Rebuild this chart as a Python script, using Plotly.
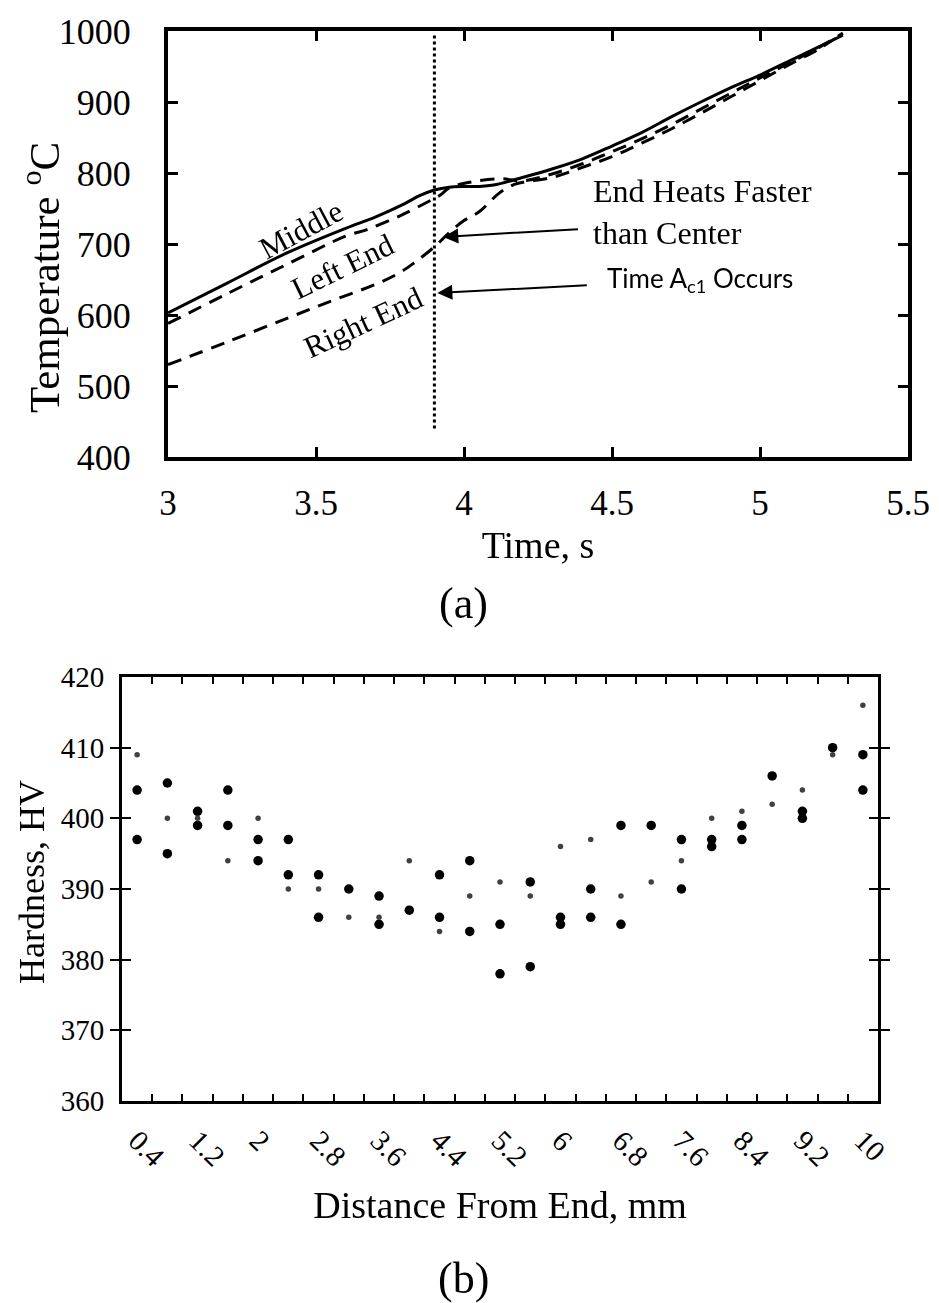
import plotly.graph_objects as go

# ---- (a) temperature vs time ----
t_middle = [3.0, 3.2, 3.4, 3.6, 3.7, 3.8, 3.85, 3.9, 3.95, 4.0, 4.05, 4.1, 4.2, 4.3,
            4.4, 4.5, 4.6, 4.7, 4.8, 4.9, 5.0, 5.1, 5.2, 5.28]
temp_middle = [603, 645, 687, 722, 738, 757, 768, 776, 780, 781, 781, 783, 794, 806,
               820, 838, 857, 879, 900, 920, 938, 958, 978, 994]

t_left = [3.0, 3.2, 3.4, 3.6, 3.67, 3.78, 3.89, 3.92, 3.95, 4.02, 4.12, 4.2, 4.3,
          4.4, 4.5, 4.6, 4.7, 4.8, 4.9, 5.0, 5.1, 5.2, 5.28]
temp_left = [588, 630, 671, 711, 720, 739, 762, 769, 779, 787, 792, 789, 799,
             813, 830, 848, 868, 890, 912, 934, 955, 977, 997]

t_right = [3.0, 3.2, 3.4, 3.56, 3.7, 3.78, 3.83, 3.9, 3.95, 4.0, 4.05, 4.12, 4.17,
           4.2, 4.3, 4.4, 4.5, 4.6, 4.7, 4.8, 4.9, 5.0, 5.1, 5.2, 5.28]
temp_right = [530, 562, 595, 621, 643, 659, 673, 696, 716, 733, 745, 772, 784,
              787, 794, 808, 823, 842, 862, 884, 907, 930, 953, 975, 997]

t_ac1 = [3.9, 3.9]
temp_ac1 = [440, 997]

# ---- (b) hardness vs distance ----
distance = [0.4, 0.8, 1.2, 1.6, 2.0, 2.4, 2.8, 3.2, 3.6, 4.0, 4.4, 4.8, 5.2,
            5.6, 6.0, 6.4, 6.8, 7.2, 7.6, 8.0, 8.4, 8.8, 9.2, 9.6, 10.0]
hv_big_1 = [404, 405, 401, 404, 397, 397, 392, 390, 389, 387, 392, 394, 385,
            391, 386, 390, 399, 399, 397, 397, 399, 406, 401, 410, 409]
hv_big_2 = [397, 395, 399, 399, 394, 392, 386, None, 385, None, 386, 384, 378,
            379, 385, 386, 385, None, 390, 396, 397, None, 400, None, 404]
hv_small = [409, 400, 400, 394, 400, 390, 390, 386, 386, 394, 384, 389, 391,
            389, 396, 397, 389, 391, 394, 400, 401, 402, 404, 409, 416]

dist_labels = [0.4, 1.2, 2, 2.8, 3.6, 4.4, 5.2, 6, 6.8, 7.6, 8.4, 9.2, 10]
dist_ticks = [round(0.6 + 0.4 * i, 1) for i in range(24)]

SERIF = "Liberation Serif, Times New Roman, serif"

# page sits 8px in from the window corner, so lay out in window pixels
W, H, OFF = 931, 1295, 8


def fx(px):
    return (px - OFF) / W


def fy(py):
    return 1 - (py - OFF) / H


fig = go.Figure()

fig.add_trace(go.Scatter(x=t_middle, y=temp_middle, mode="lines", line_shape="spline",
                         line=dict(color="black", width=3), xaxis="x", yaxis="y"))
fig.add_trace(go.Scatter(x=t_left, y=temp_left, mode="lines", line_shape="spline",
                         line=dict(color="black", width=3, dash="14px,9px"), xaxis="x", yaxis="y"))
fig.add_trace(go.Scatter(x=t_right, y=temp_right, mode="lines", line_shape="spline",
                         line=dict(color="black", width=3, dash="14px,9px"), xaxis="x", yaxis="y"))
fig.add_trace(go.Scatter(x=t_ac1, y=temp_ac1, mode="lines",
                         line=dict(color="black", width=3, dash="dot"), xaxis="x", yaxis="y"))

fig.add_trace(go.Scatter(x=distance, y=hv_big_1, mode="markers",
                         marker=dict(color="black", size=9.5), xaxis="x2", yaxis="y2"))
fig.add_trace(go.Scatter(x=distance, y=hv_big_2, mode="markers",
                         marker=dict(color="black", size=9.5), xaxis="x2", yaxis="y2"))
fig.add_trace(go.Scatter(x=distance, y=hv_small, mode="markers",
                         marker=dict(color="#404040", size=5.5), xaxis="x2", yaxis="y2"))
# hidden trace so the top tick axis of (b) gets drawn
fig.add_trace(go.Scatter(x=distance, y=hv_small, mode="markers", opacity=0,
                         hoverinfo="skip", xaxis="x3", yaxis="y2"))

axis_common = dict(showline=True, linecolor="black", mirror="allticks", ticks="inside",
                   tickcolor="black", showgrid=False, zeroline=False, automargin=False)

fig.update_layout(
    width=W, height=H,
    margin=dict(l=0, r=0, t=0, b=0),
    paper_bgcolor="white", plot_bgcolor="white",
    showlegend=False,
    font=dict(family=SERIF, color="black"),
    xaxis=dict(axis_common, domain=[fx(168), fx(908)], range=[3, 5.5], dtick=0.5,
               linewidth=4, tickwidth=3, ticklen=10, anchor="y",
               tickfont=dict(size=35), ticklabelstandoff=12,
               title=dict(text="Time, s", font=dict(size=38), standoff=10)),
    yaxis=dict(axis_common, domain=[fy(457), fy(31)], range=[400, 1000], dtick=100,
               linewidth=4, tickwidth=3, ticklen=10, anchor="x",
               tickfont=dict(size=36), ticklabelstandoff=26),
    xaxis2=dict(axis_common, domain=[fx(122), fx(878)], range=[0.2, 10.2], anchor="y2",
                mirror=False, linewidth=3, tickvals=dist_labels, ticklen=0, tickangle=45,
                tickfont=dict(size=29), ticklabelstandoff=8,
                minor=dict(tickvals=dist_ticks, ticks="inside", ticklen=7, tickwidth=2,
                           tickcolor="black"),
                title=dict(text="Distance From End, mm", font=dict(size=38), standoff=20)),
    xaxis3=dict(overlaying="x2", side="top", anchor="y2", range=[0.2, 10.2],
                tickvals=dist_ticks, ticks="inside", ticklen=7, tickwidth=2,
                tickcolor="black", showticklabels=False, showline=True, linewidth=3,
                linecolor="black", showgrid=False, zeroline=False, automargin=False),
    yaxis2=dict(axis_common, domain=[fy(1101), fy(677)], range=[360, 420], dtick=10,
                linewidth=3, tickwidth=2, ticklen=9, anchor="x2",
                tickfont=dict(size=29), ticklabelstandoff=9),
)

annotations = [
    dict(text="Middle", x=3.45, y=721, textangle=-28, font=dict(size=31)),
    dict(text="Left End", x=3.59, y=668, textangle=-26, font=dict(size=31)),
    dict(text="Right End", x=3.66, y=589, textangle=-25, font=dict(size=31)),
    dict(text="End Heats Faster<br>than Center", x=4.43, y=745, xanchor="left",
         align="left", font=dict(size=32)),
    dict(text="Time A<sub>c1</sub> Occurs", x=4.475, y=650, xanchor="left",
         font=dict(size=26, family="Lato, Open Sans, sans-serif")),
]
for a in annotations:
    a.update(xref="x", yref="y", showarrow=False)
    fig.add_annotation(**a)

fig.add_annotation(x=3.93, y=710, ax=4.39, ay=721, xref="x", yref="y", axref="x", ayref="y",
                   showarrow=True, arrowhead=2, arrowsize=1.5, arrowwidth=2, arrowcolor="black",
                   text="")
fig.add_annotation(x=3.91, y=631, ax=4.42, ay=642, xref="x", yref="y", axref="x", ayref="y",
                   showarrow=True, arrowhead=2, arrowsize=1.5, arrowwidth=2, arrowcolor="black",
                   text="")

# y axis titles and panel letters
paper_texts = [
    dict(text="Temperature <sup>o</sup>C", x=fx(41), y=fy(278), textangle=-90, font=dict(size=43)),
    dict(text="Hardness, HV", x=fx(32), y=fy(882), textangle=-90, font=dict(size=36)),
    dict(text="(a)", x=fx(463), y=fy(603), font=dict(size=44)),
    dict(text="(b)", x=fx(463), y=fy(1278), font=dict(size=44)),
]
for a in paper_texts:
    a.update(xref="paper", yref="paper", xanchor="center", yanchor="middle", showarrow=False)
    fig.add_annotation(**a)

fig.write_html("out.html")
